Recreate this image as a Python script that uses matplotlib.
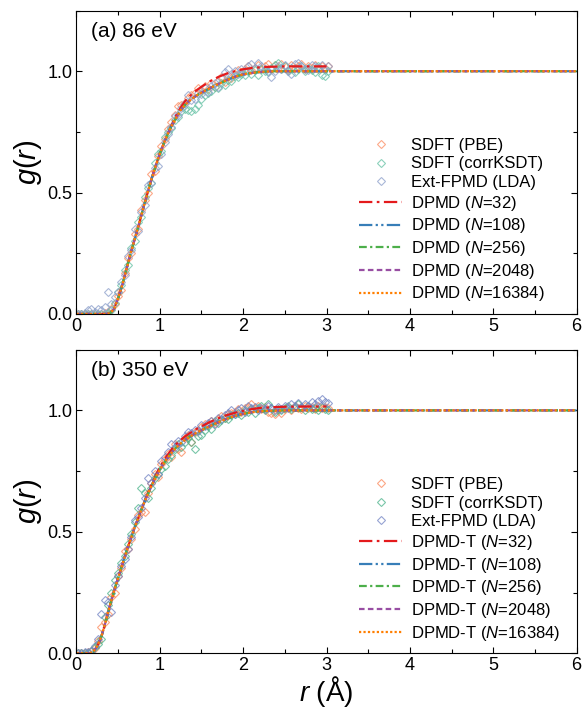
import numpy as np
import matplotlib
matplotlib.use('Agg')
import matplotlib.pyplot as plt
from matplotlib.ticker import MultipleLocator

plt.rcParams['font.family'] = ['Liberation Sans', 'DejaVu Sans']
plt.rcParams['mathtext.fontset'] = 'custom'
plt.rcParams['mathtext.rm'] = 'Liberation Sans'
plt.rcParams['mathtext.it'] = 'Liberation Sans:italic'

# r grid of the scattered ab initio points
r_pts = np.round(np.arange(0.02, 3.04, 0.04), 2)

# (a) 86 eV, scattered points
g_pbe_a = [0, 0, 0, 0, 0, 0, 0, 0, 0.005, 0.01, 0.02, 0.04, 0.075, 0.10, 0.17, 0.23, 0.25, 0.33, 0.35, 0.43,
           0.47, 0.50, 0.575, 0.59, 0.65, 0.69, 0.72, 0.76, 0.79, 0.82, 0.855, 0.86, 0.87, 0.89, 0.90, 0.91, 0.93, 0.92,
           0.94, 0.925, 0.95, 0.935, 0.96, 0.975, 0.955, 0.985, 0.97, 0.99, 1.005, 0.995, 1.01, 1.02, 1.005, 1.015,
           1.025, 1.01, 1.02, 1.03, 1.01, 1.025, 1.015, 1.03, 1.02, 1.005, 1.025, 1.015, 1.02, 1.03, 1.01, 1.02,
           1.015, 1.025, 1.01, 1.02, 1.015, 1.02]
g_ksdt_a = [0, 0, 0, 0, 0, 0, 0, 0, 0, 0.005, 0.015, 0.045, 0.09, 0.12, 0.18, 0.20, 0.27, 0.30, 0.38, 0.40,
            0.48, 0.52, 0.54, 0.62, 0.66, 0.67, 0.73, 0.75, 0.765, 0.80, 0.81, 0.835, 0.845, 0.84, 0.835, 0.845, 0.86,
            0.885, 0.90, 0.91, 0.92, 0.935, 0.93, 0.95, 0.945, 0.965, 0.96, 0.98, 0.975, 0.99, 0.985, 1.0, 0.99,
            1.005, 0.985, 1.01, 1.0, 0.995, 1.015, 1.025, 1.035, 1.01, 1.02, 1.0, 1.015, 0.995, 1.01, 1.02, 1.0,
            1.015, 1.005, 0.995, 1.02, 0.985, 0.98, 1.0]
g_lda_a = [0, 0, 0.005, 0.015, 0.02, 0.01, 0.02, 0.015, 0.03, 0.09, 0.04, 0.07, 0.09, 0.13, 0.16, 0.24, 0.265,
           0.35, 0.34, 0.42, 0.45, 0.53, 0.54, 0.60, 0.61, 0.66, 0.71, 0.74, 0.77, 0.815, 0.82, 0.85, 0.87, 0.90,
           0.88, 0.885, 0.91, 0.905, 0.93, 0.915, 0.94, 0.95, 0.935, 0.97, 0.995, 1.01, 0.98, 1.0, 0.99, 1.01, 1.0,
           1.02, 1.03, 1.015, 1.035, 1.02, 1.01, 1.0, 0.975, 1.0, 1.02, 1.01, 1.025, 1.0, 0.99, 1.03, 1.035, 1.02,
           1.01, 1.005, 1.025, 1.02, 1.015, 1.025, 1.01, 1.02]

# (b) 350 eV, scattered points
g_pbe_b = [0, 0, 0, 0.005, 0.01, 0.02, 0.05, 0.11, 0.13, 0.16, 0.23, 0.25, 0.32, 0.35, 0.42, 0.43, 0.47, 0.51,
           0.57, 0.58, 0.58, 0.66, 0.70, 0.74, 0.725, 0.78, 0.80, 0.82, 0.81, 0.86, 0.84, 0.83, 0.885, 0.90, 0.87,
           0.91, 0.92, 0.93, 0.945, 0.94, 0.955, 0.95, 0.965, 0.975, 0.97, 0.985, 0.99, 0.995, 1.005, 0.995, 1.01,
           1.015, 1.025, 1.01, 1.02, 1.005, 1.015, 0.995, 0.99, 0.985, 1.0, 0.99, 1.005, 1.015, 1.0, 1.02, 1.01,
           1.005, 1.02, 1.01, 1.015, 1.005, 1.02, 1.01, 1.015, 1.01]
g_ksdt_b = [0, 0, 0, 0, 0.01, 0.025, 0.04, 0.06, 0.15, 0.20, 0.25, 0.30, 0.33, 0.37, 0.40, 0.45, 0.49, 0.54,
            0.60, 0.68, 0.66, 0.64, 0.68, 0.72, 0.74, 0.76, 0.77, 0.80, 0.815, 0.84, 0.86, 0.85, 0.87, 0.885, 0.87,
            0.84, 0.895, 0.90, 0.92, 0.935, 0.925, 0.955, 0.95, 0.96, 0.97, 0.965, 0.98, 0.985, 0.99, 0.98, 1.0,
            0.995, 1.005, 0.99, 1.01, 1.02, 1.0, 1.025, 1.01, 0.995, 1.005, 1.0, 1.01, 1.02, 1.005, 1.015, 1.025,
            1.015, 1.0, 1.02, 1.005, 1.01, 1.0, 1.015, 1.005, 1.0]
g_lda_b = [0, 0, 0.005, 0.005, 0.01, 0.03, 0.06, 0.16, 0.22, 0.21, 0.17, 0.28, 0.32, 0.36, 0.39, 0.43, 0.48,
           0.55, 0.56, 0.60, 0.64, 0.72, 0.70, 0.75, 0.74, 0.79, 0.81, 0.83, 0.86, 0.85, 0.875, 0.87, 0.895, 0.91,
           0.905, 0.92, 0.915, 0.94, 0.935, 0.95, 0.955, 0.945, 0.97, 0.965, 0.98, 0.99, 1.0, 0.985, 1.0, 1.01,
           0.995, 1.02, 1.01, 1.015, 1.0, 1.01, 1.005, 1.02, 1.01, 1.0, 1.015, 1.005, 1.02, 1.01, 1.025, 1.02,
           1.03, 1.015, 1.025, 1.02, 1.035, 1.025, 1.04, 1.045, 1.035, 1.03]

# DPMD curves
r_line = [0.0, 0.10, 0.15, 0.20, 0.25, 0.30, 0.35, 0.40, 0.45, 0.50, 0.55, 0.60, 0.65, 0.70, 0.75, 0.80, 0.85,
          0.90, 0.95, 1.00, 1.05, 1.10, 1.15, 1.20, 1.25, 1.30, 1.35, 1.40, 1.45, 1.50, 1.60, 1.70, 1.80, 1.90,
          2.00, 2.10, 2.20, 2.30, 2.40, 2.50, 2.75, 3.00, 3.50, 4.00, 4.50, 5.00, 5.50, 6.00]
g_dpmd_a = [0, 0, 0, 0, 0, 0, 0, 0.003, 0.02, 0.065, 0.12, 0.185, 0.25, 0.31, 0.37, 0.435, 0.495, 0.555, 0.61,
            0.66, 0.705, 0.745, 0.78, 0.81, 0.84, 0.86, 0.877, 0.89, 0.902, 0.912, 0.93, 0.947, 0.963, 0.977,
            0.987, 0.993, 0.997, 0.999, 1.0, 1.0, 1.0, 1.0, 1.0, 1.0, 1.0, 1.0, 1.0, 1.0]
g_dpmd32_a = [0, 0, 0, 0, 0, 0, 0, 0.003, 0.02, 0.065, 0.12, 0.185, 0.25, 0.31, 0.37, 0.435, 0.495, 0.555, 0.61,
              0.66, 0.705, 0.745, 0.785, 0.82, 0.85, 0.875, 0.895, 0.91, 0.924, 0.936, 0.958, 0.976, 0.99, 1.0,
              1.008, 1.013, 1.016, 1.018, 1.019, 1.02, 1.02, 1.02]
g_dpmd_b = [0, 0, 0, 0.005, 0.03, 0.07, 0.13, 0.195, 0.255, 0.31, 0.365, 0.42, 0.47, 0.52, 0.565, 0.61, 0.65,
            0.69, 0.725, 0.755, 0.783, 0.808, 0.83, 0.848, 0.864, 0.878, 0.89, 0.90, 0.91, 0.918, 0.935, 0.951,
            0.965, 0.977, 0.986, 0.992, 0.996, 0.998, 0.999, 1.0, 1.0, 1.0, 1.0, 1.0, 1.0, 1.0, 1.0, 1.0]
g_dpmd32_b = [0, 0, 0, 0.005, 0.03, 0.07, 0.13, 0.195, 0.255, 0.31, 0.365, 0.42, 0.47, 0.52, 0.565, 0.61, 0.655,
              0.695, 0.732, 0.765, 0.795, 0.82, 0.843, 0.862, 0.878, 0.892, 0.904, 0.915, 0.925, 0.934, 0.952,
              0.967, 0.98, 0.99, 0.998, 1.005, 1.01, 1.012, 1.014, 1.015, 1.016, 1.016]

sizes = ['32', '108', '256', '2048', '16384']
line_colors = ['#e41a1c', '#377eb8', '#4daf4a', '#984ea3', '#ff7f00']
line_dashes = [(6, 2, 1.2, 2), (6, 1.5, 1, 1.5, 1, 1.5), (3.5, 1.5, 1, 1.5), (2.5, 1.5), (1, 1)]

panels = [
    dict(label='(a) 86 eV', prefix='DPMD', pts=[g_pbe_a, g_ksdt_a, g_lda_a], g32=g_dpmd32_a, g=g_dpmd_a,
         mcolors=['#fc8d62', '#66c2a5', '#8da0cb']),
    dict(label='(b) 350 eV', prefix='DPMD-T', pts=[g_pbe_b, g_ksdt_b, g_lda_b], g32=g_dpmd32_b, g=g_dpmd_b,
         mcolors=['#fb8a5c', '#4db38c', '#7485c4']),
]
pt_names = ['SDFT (PBE)', 'SDFT (corrKSDT)', 'Ext-FPMD (LDA)']

fig = plt.figure(figsize=(5.82, 7.11), dpi=100)
axes = [fig.add_axes([0.1314, 0.5584, 0.8592, 0.4268]),
        fig.add_axes([0.1314, 0.0812, 0.8592, 0.4270])]

for ax, p in zip(axes, panels):
    for g, name, c in zip(p['pts'], pt_names, p['mcolors']):
        ax.plot(r_pts, g, ls='none', marker='D', ms=3.8, mfc='none', mec=c, mew=0.8, alpha=0.75, label=name)
    for n, c, d in zip(sizes, line_colors, line_dashes):
        if n == '32':
            xs, ys = r_line[:len(p['g32'])], p['g32']
        else:
            xs, ys = r_line, p['g']
        ax.plot(xs, ys, color=c, lw=1.6, dashes=d, label=p['prefix'] + ' ($N$=' + n + ')')

    ax.set_xlim(0, 6)
    ax.set_ylim(0, 1.25)
    ax.xaxis.set_major_locator(MultipleLocator(1))
    ax.xaxis.set_minor_locator(MultipleLocator(0.5))
    ax.yaxis.set_minor_locator(MultipleLocator(0.25))
    ax.set_yticks([0, 0.5, 1.0])
    ax.set_yticklabels(['0.0', '0.5', '1.0'])
    ax.tick_params(which='both', direction='in', top=True, right=True, labelsize=13, pad=3)
    ax.tick_params(which='major', length=4, width=0.8)
    ax.tick_params(which='minor', length=3, width=0.8)
    for s in ax.spines.values():
        s.set_linewidth(0.8)
    ax.set_ylabel('$g$($r$)', fontsize=21, labelpad=2)
    ax.text(0.03, 0.93, p['label'], transform=ax.transAxes, fontsize=15, va='center', ha='left')
    ax.legend(loc='lower left', bbox_to_anchor=(0.565, 0.035), frameon=False, fontsize=12,
              numpoints=1, handlelength=2.6, handletextpad=0.5, labelspacing=0.22, borderpad=0,
              borderaxespad=0)

axes[1].set_xlabel('$r$ (Å)', fontsize=20, labelpad=0)

fig.savefig('out.png', dpi=100)
